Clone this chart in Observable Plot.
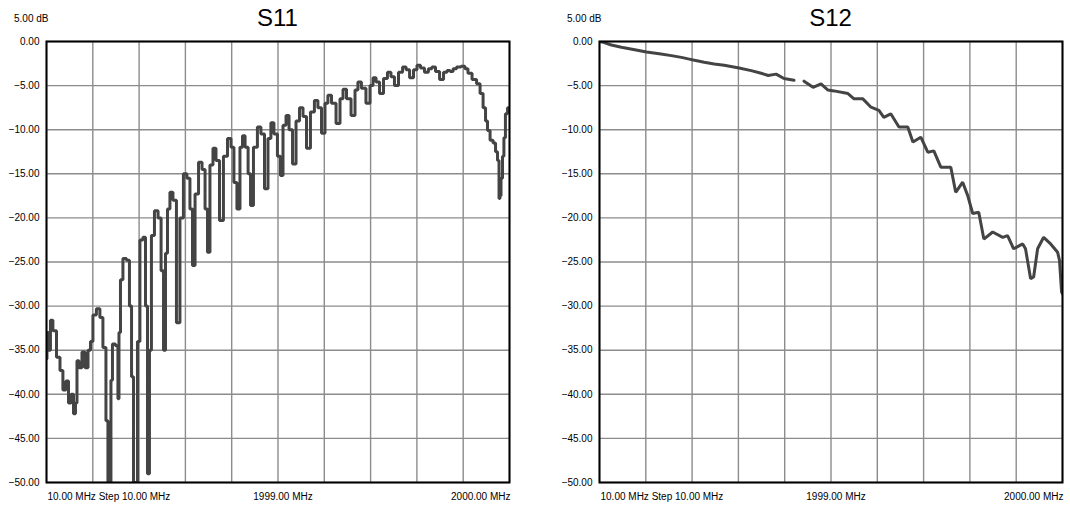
<!DOCTYPE html>
<html><head><meta charset="utf-8">
<script src="https://cdn.jsdelivr.net/npm/d3@7"></script>
<script src="https://cdn.jsdelivr.net/npm/@observablehq/plot@0.6"></script>
<style>
body{margin:0;background:#fff;font-family:"Liberation Sans",Arial,Helvetica,sans-serif;}
#wrap{position:relative;width:1070px;height:506px;overflow:hidden;}
.panel{position:absolute;top:0;width:535px;height:506px;}
.title{position:absolute;top:4px;font-size:24px;line-height:28px;transform:translateX(-50%);color:#000;}
.unit{position:absolute;top:13px;font-size:10px;line-height:12px;color:#000;}
</style></head><body><div id="wrap"></div>
<script>
// ---- data ----
const panelTitles = ["S11", "S12"];
const unitLabel = "5.00 dB";
const xTickLabels = ["10.00 MHz Step 10.00 MHz", "1999.00 MHz", "2000.00 MHz"];
const xTickAt = [10, 1005, 2000];
const yTicks = [0, -5, -10, -15, -20, -25, -30, -35, -40, -45, -50];

const s11Freq = [10,14,23,31,44,62,74,87,100,109,122,130,139,143,156,169,182,195,203,216,233,246,259,272,276,285,289,298,315,319,324,332,345,362,371,380,388,397,405,418,431,440,448,457,465,483,496,509,517,526,534,547,560,577,590,607,620,633,642,655,672,685,698,706,719,732,745,762,779,797,809,822,835,848,857,870,883,891,908,925,938,956,968,981,994,1011,1020,1033,1046,1059,1076,1089,1106,1119,1136,1153,1170,1183,1201,1213,1226,1244,1265,1278,1291,1308,1330,1342,1355,1372,1394,1407,1420,1433,1450,1467,1484,1497,1514,1532,1549,1562,1579,1596,1609,1626,1643,1660,1673,1691,1708,1725,1738,1751,1764,1781,1802,1815,1828,1850,1867,1880,1893,1901,1910,1923,1936,1944,1953,1957,1961,1966,1974,1978,1987,1996,2000];
const s11Db = [-36,-33,-35,-31.6,-32.8,-35.8,-37.3,-39.5,-38.5,-41,-40,-42.2,-41,-36.2,-37,-35.2,-37,-35,-34,-31,-30.3,-31.3,-34.7,-43,-50,-50,-38.4,-34.3,-34.5,-40.5,-33,-27,-24.6,-24.8,-30,-38,-50,-50,-34,-22.5,-22.2,-30,-49,-35,-22,-19.2,-20,-26,-35,-24,-19,-17.1,-18,-31.9,-20,-15,-15.5,-19,-25.4,-17.3,-13.7,-14.5,-19,-23.9,-14,-12.1,-13.5,-20.3,-13,-11,-12,-16,-19,-12,-10.7,-12,-15,-18.6,-12,-9.7,-10.5,-16.7,-11,-9.2,-10.5,-13,-15.2,-9.5,-8.4,-10,-13.9,-9,-7.5,-8.5,-12.1,-8,-6.7,-7.5,-10.4,-7,-6.1,-7,-9.3,-6.5,-5.4,-6.5,-8.4,-5.5,-4.6,-5.3,-7,-5,-4.1,-4.6,-5.9,-4.2,-3.5,-4,-5,-3.5,-2.9,-3.2,-4.1,-3.2,-2.7,-3,-3.5,-3.1,-2.9,-3.4,-4.3,-3.5,-3.3,-3.4,-3.1,-2.9,-2.8,-3.1,-3.6,-4.3,-4.8,-5.9,-7.5,-9,-10.1,-11.2,-11.5,-12.5,-13.5,-17.8,-17.5,-15.5,-13,-10.9,-8.2,-7.5,-7.7];

const s12Freq = [10,27,61,104,156,212,267,319,362,396,413,460,503,546,610,662,705,735,769,803,846,868,889,928,962,992,1018,1078,1104,1142,1177,1211,1232,1262,1297,1335,1357,1391,1421,1447,1477,1520,1541,1571,1593,1614,1640,1662,1700,1743,1764,1790,1829,1841,1863,1876,1893,1919,1949,1979,1987,1996,2000];
const s12Db = [0,-0.1,-0.4,-0.65,-0.9,-1.2,-1.4,-1.6,-1.8,-2.0,-2.1,-2.35,-2.55,-2.7,-3.0,-3.3,-3.6,-3.85,-3.7,-4.2,-4.4,NaN,-4.5,-5.2,-4.8,-5.5,-5.6,-5.9,-6.5,-6.5,-7.45,-7.8,-8.6,-8.2,-9.7,-9.7,-11.4,-10.85,-12.55,-12.4,-14.25,-14.25,-17.1,-15.95,-17.5,-19.5,-19.35,-22.4,-21.6,-22.2,-22.0,-23.5,-22.95,-23.5,-26.9,-26.7,-23.5,-22.2,-22.95,-23.9,-24.8,-28.4,-28.6];

// ---- drawing ----
const wrap = document.getElementById("wrap");
const fmt = d3.format(".2f");
const gridX = d3.range(0, 11).map(i => 10 + i * 199);

function panel(left, mLeft, mRight, title, freq, db, curve) {
  const data = freq.map((f, i) => ({f, v: db[i]}));
  const div = document.createElement("div");
  div.className = "panel";
  div.style.left = left + "px";
  const W = 535;
  const chart = Plot.plot({
    width: W, height: 506,
    marginLeft: mLeft, marginRight: mRight, marginTop: 41, marginBottom: 24,
    style: {fontFamily: '"Liberation Sans",Arial,sans-serif', fontSize: "10px", color: "#000", background: "#fff"},
    x: {domain: [10, 2000], axis: null},
    y: {domain: [-50, 0], ticks: yTicks, tickFormat: fmt, tickSize: 0, tickPadding: 7, label: null},
    marks: [
      Plot.gridX(gridX, {stroke: "#8c8c8c", strokeOpacity: 1, strokeWidth: 1.4}),
      Plot.gridY(yTicks, {stroke: "#8c8c8c", strokeOpacity: 1, strokeWidth: 1.4}),
      Plot.line(data, {x: "f", y: "v", curve, stroke: "#444", strokeWidth: 3, strokeLinejoin: "miter", clip: true}),
      Plot.frame({stroke: "#000", strokeWidth: 2}),
      Plot.text([xTickLabels[0]], {x: xTickAt[0], frameAnchor: "bottom", dy: 17, dx: 1, textAnchor: "start", fill: "#000"}),
      Plot.text([xTickLabels[1]], {x: xTickAt[1], frameAnchor: "bottom", dy: 17, dx: 5, textAnchor: "middle", fill: "#000"}),
      Plot.text([xTickLabels[2]], {x: xTickAt[2], frameAnchor: "bottom", dy: 17, dx: 1, textAnchor: "end", fill: "#000"})
    ]
  });
  div.appendChild(chart);
  const t = document.createElement("div");
  t.className = "title";
  t.textContent = title;
  t.style.left = (mLeft + (W - mLeft - mRight) / 2) + "px";
  div.appendChild(t);
  const u = document.createElement("div");
  u.className = "unit";
  u.textContent = unitLabel;
  u.style.left = (mLeft - 32) + "px";
  div.appendChild(u);
  wrap.appendChild(div);
}

panel(0, 46, 26, panelTitles[0], s11Freq, s11Db, "step");
panel(535, 64, 8, panelTitles[1], s12Freq, s12Db, "linear");
</script></body></html>
